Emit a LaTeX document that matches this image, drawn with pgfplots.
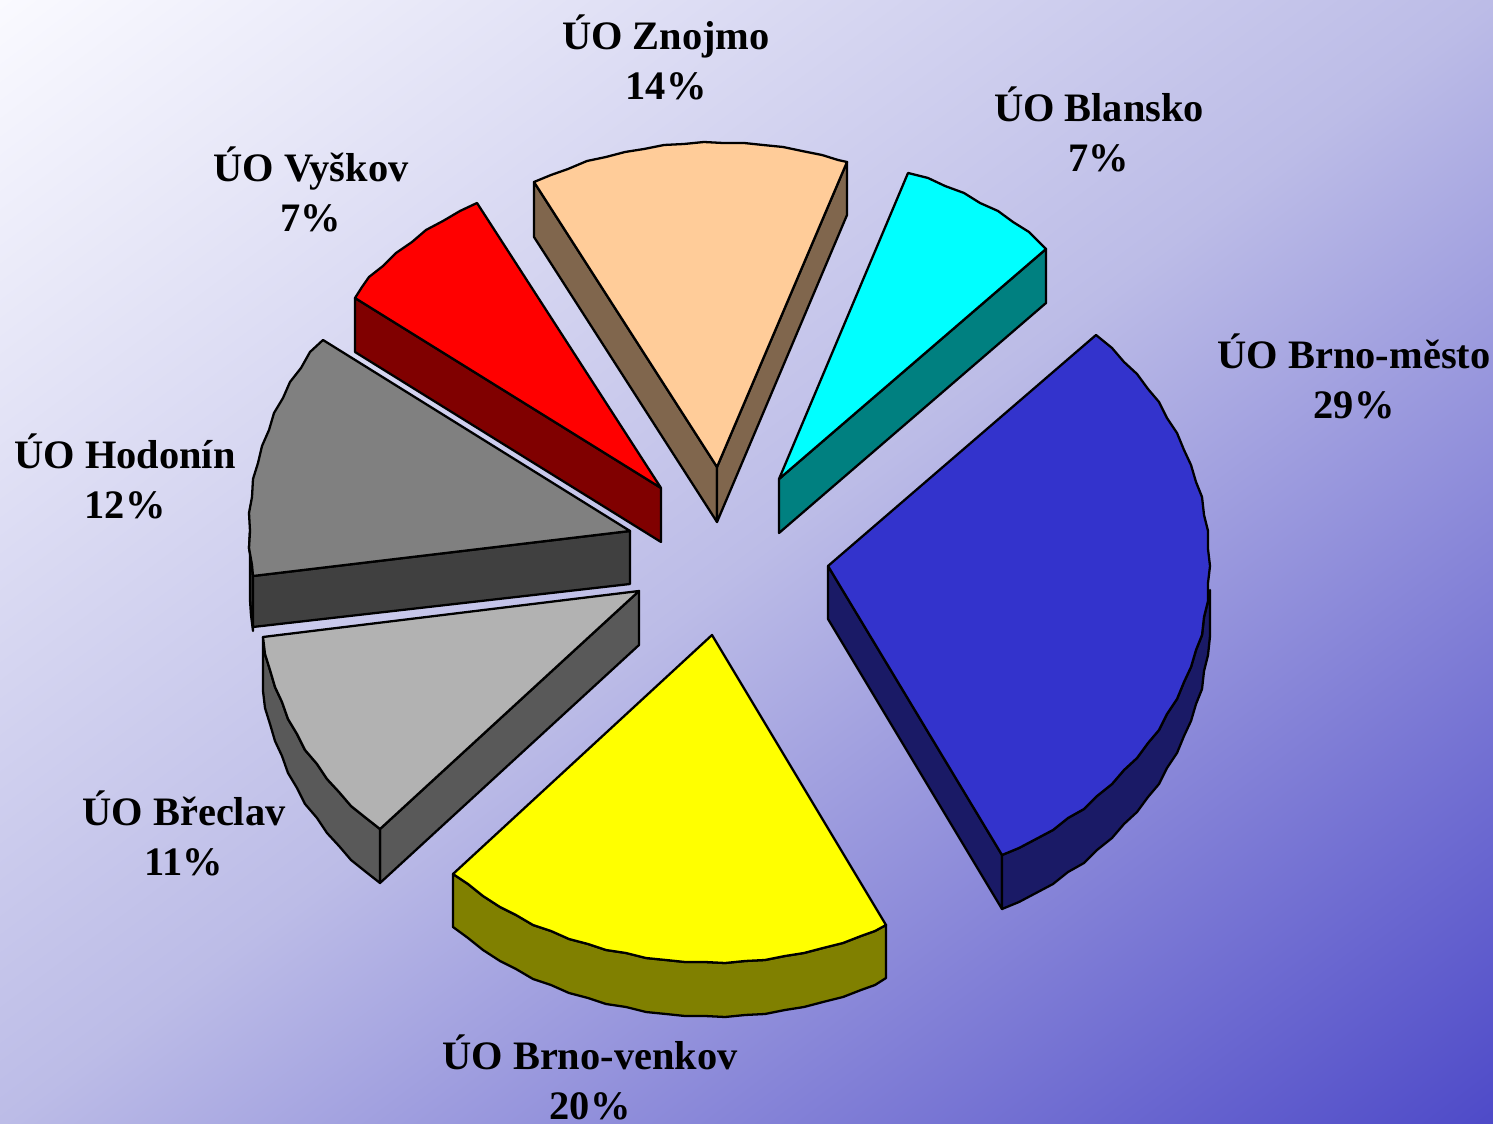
\documentclass[border=0pt]{standalone}
\usepackage{fontspec}
\setmainfont{Liberation Serif}
\usepackage{pgfplots}
\pgfplotsset{compat=1.18}
\definecolor{bluetop}{HTML}{3333CC}
\definecolor{blueside}{HTML}{1A1A66}
\definecolor{cyantop}{HTML}{00FFFF}
\definecolor{cyanside}{HTML}{008080}
\definecolor{peachtop}{HTML}{FFCC99}
\definecolor{peachside}{HTML}{80664D}
\definecolor{redtop}{HTML}{FF0000}
\definecolor{redside}{HTML}{800000}
\definecolor{graytop}{HTML}{808080}
\definecolor{grayside}{HTML}{404040}
\definecolor{ltgraytop}{HTML}{B2B2B2}
\definecolor{ltgrayside}{HTML}{595959}
\definecolor{yellowtop}{HTML}{FFFF00}
\definecolor{yellowside}{HTML}{808000}
\tikzset{
  slice/.style={draw=black,line width=0.65pt,line join=round,fill=#1},
  lab/.style={font=\bfseries\fontsize{11.5}{14.2}\selectfont,align=center,inner sep=0pt,anchor=center},
}
\begin{document}
\begin{tikzpicture}
\begin{axis}[
  scale only axis,width=14.93cm,height=11.24cm,
  xmin=0,xmax=1493,ymin=0,ymax=1124,y dir=reverse,
  hide axis,
  colormap={bg}{rgb255=(250,250,255) rgb255=(188,188,231) rgb255=(78,74,200)},
  point meta min=0,point meta max=1,
]
  % background, two triangles
  \addplot[patch,shader=interp,forget plot,patch type=triangle,point meta=explicit] coordinates {
    (0,0)[0] (1493,0)[0.5] (0,1124)[0.5]
    (1493,0)[0.5] (0,1124)[0.5] (1493,1124)[1]
  };

  % Brno-mesto
  \addplot[slice=blueside] coordinates {(828,566)(1002,855)(1002,909)(828,619)} --cycle;
  \addplot[slice=blueside] coordinates {(1002,855)(1019,848)(1036,839)(1053,830)(1068,818)(1084,809)(1097,796)(1112,784)(1124,770)(1137,758)(1148,743)(1159,730)(1167,714)(1177,699)(1184,682)(1191,667)(1196,650)(1202,635)(1204,617)(1208,601)(1210,590)(1210,636)(1208,655)(1204,671)(1202,689)(1196,704)(1191,721)(1184,736)(1177,753)(1167,768)(1159,784)(1148,797)(1137,812)(1124,824)(1112,838)(1097,850)(1084,863)(1068,872)(1053,884)(1036,893)(1019,902)(1002,909)} --cycle;
  \addplot[slice=bluetop] coordinates {(828,566)(1096,335)(1112,348)(1124,362)(1137,374)(1148,389)(1159,402)(1167,418)(1177,433)(1184,450)(1191,465)(1196,482)(1202,497)(1204,515)(1208,531)(1208,549)(1210,566)(1208,583)(1208,601)(1204,617)(1202,635)(1196,650)(1191,667)(1184,682)(1177,699)(1167,714)(1159,730)(1148,743)(1137,758)(1124,770)(1112,784)(1097,796)(1084,809)(1068,818)(1053,830)(1036,839)(1019,848)(1002,855)} --cycle;

  % Blansko
  \addplot[slice=cyanside] coordinates {(779,479)(1046,249)(1046,303)(779,533)} --cycle;
  \addplot[slice=cyantop] coordinates {(779,479)(908,173)(928,178)(945,186)(964,193)(980,203)(998,211)(1013,222)(1029,232)(1038,241)(1046,249)} --cycle;

  % Znojmo
  \addplot[slice=peachside] coordinates {(534,182)(717,467)(717,522)(534,237)} --cycle;
  \addplot[slice=peachside] coordinates {(717,467)(847,162)(847,215)(717,522)} --cycle;
  \addplot[slice=peachtop] coordinates {(717,467)(534,182)(551,175)(568,169)(587,161)(606,157)(625,152)(644,149)(664,145)(684,144)(704,142)(723,143)(744,143)(763,145)(783,147)(802,151)(822,155)(838,160)(847,162)} --cycle;

  % Vyskov
  \addplot[slice=redside] coordinates {(355,298)(661,488)(661,542)(355,352)} --cycle;
  \addplot[slice=redtop] coordinates {(661,488)(477,203)(460,211)(443,221)(426,230)(412,242)(396,253)(383,266)(369,277)(362,287)(355,298)} --cycle;

  % Hodonin
  \addplot[slice=grayside] coordinates {(250,531)(249,548)(252,565)(253,576)(253,631)(251,615)(250,600)} --cycle;
  \addplot[slice=grayside] coordinates {(253,576)(630,531)(630,584)(253,627)} --cycle;
  \addplot[slice=graytop] coordinates {(630,531)(323,340)(310,352)(301,368)(290,382)(283,398)(274,413)(269,430)(262,446)(258,463)(253,479)(252,497)(249,513)(250,531)(249,548)(252,565)(253,576)} --cycle;

  % Breclav
  \addplot[slice=ltgrayside] coordinates {(380,829)(639,591)(639,645)(380,883)} --cycle;
  \addplot[slice=ltgrayside] coordinates {(263,637)(265,654)(270,670)(275,687)(282,702)(288,719)(297,734)(305,750)(317,764)(327,779)(339,792)(351,806)(366,818)(380,829)(380,883)(366,872)(351,860)(339,846)(327,833)(317,818)(305,804)(297,788)(288,773)(282,756)(275,741)(270,724)(265,708)(263,691)} --cycle;
  \addplot[slice=ltgraytop] coordinates {(639,591)(263,637)(265,654)(270,670)(275,687)(282,702)(288,719)(297,734)(305,750)(317,764)(327,779)(339,792)(351,806)(366,818)(380,829)} --cycle;

  % Brno-venkov
  \addplot[slice=yellowside] coordinates {(453,874)(468,884)(483,896)(500,907)(516,915)(533,925)(551,931)(569,939)(588,944)(606,950)(626,953)(646,958)(666,960)(685,962)(705,962)(725,963)(745,961)(765,960)(785,956)(804,953)(823,948)(843,943)(861,936)(875,931)(886,925)(886,978)(875,985)(861,990)(843,997)(823,1002)(804,1007)(785,1010)(765,1014)(745,1015)(725,1017)(705,1016)(685,1016)(666,1014)(646,1012)(626,1007)(606,1004)(588,998)(569,993)(551,985)(533,979)(516,969)(500,961)(483,950)(468,938)(453,927)} --cycle;
  \addplot[slice=yellowtop] coordinates {(712,635)(453,874)(468,884)(483,896)(500,907)(516,915)(533,925)(551,931)(569,939)(588,944)(606,950)(626,953)(646,958)(666,960)(685,962)(705,962)(725,963)(745,961)(765,960)(785,956)(804,953)(823,948)(843,943)(861,936)(875,931)(886,925)} --cycle;

  \node[lab] at (axis cs:666,57) {ÚO Znojmo\\14\%};
  \node[lab] at (axis cs:1099,129) {ÚO Blansko\\7\%};
  \node[lab] at (axis cs:311,189) {ÚO Vyškov\\7\%};
  \node[lab] at (axis cs:1354,376) {ÚO Brno-město\\29\%};
  \node[lab] at (axis cs:125,476) {ÚO Hodonín\\12\%};
  \node[lab] at (axis cs:184,833) {ÚO Břeclav\\11\%};
  \node[lab] at (axis cs:590,1077) {ÚO Brno-venkov\\20\%};
\end{axis}
\end{tikzpicture}
\end{document}
